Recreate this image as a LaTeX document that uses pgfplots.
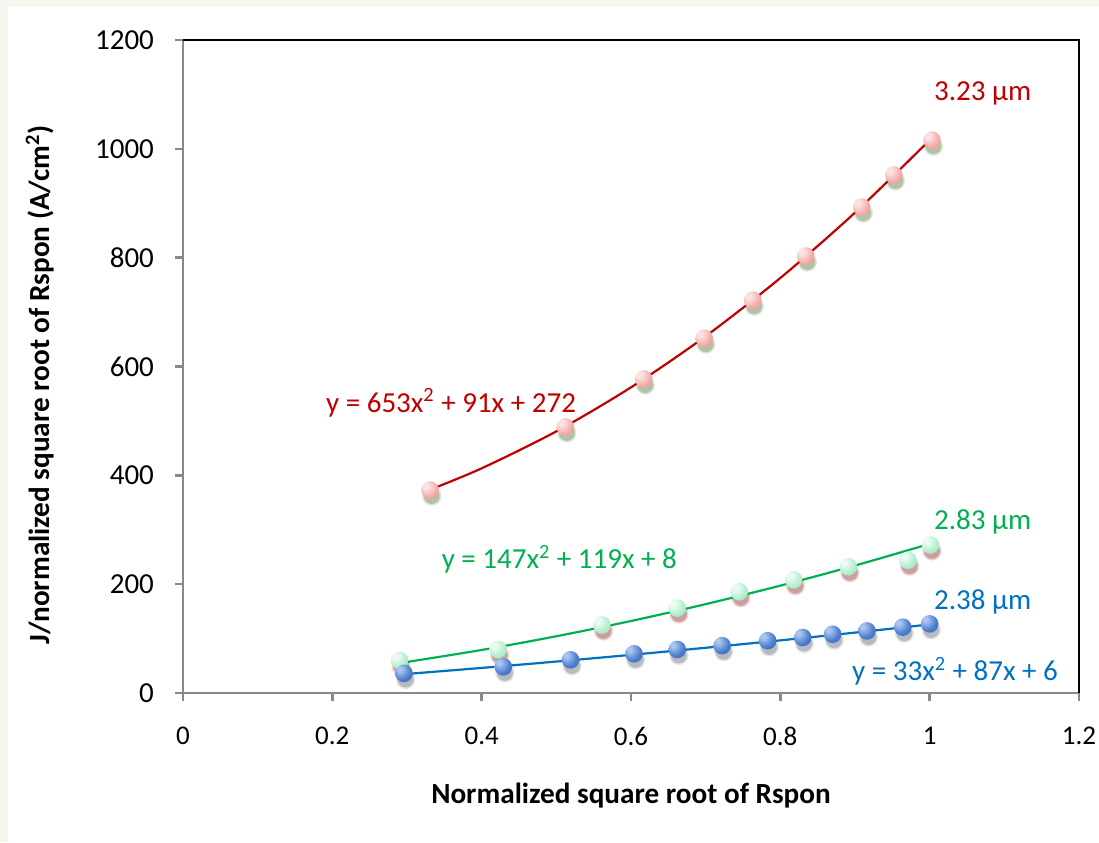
\documentclass[border=0pt]{standalone}
\usepackage{fontspec}
\setmainfont{Carlito}
\usepackage{pgfplots}
\pgfplotsset{compat=1.18}
\definecolor{axgray}{HTML}{898989}
\definecolor{cred}{HTML}{C00000}
\definecolor{cgreen}{HTML}{00B050}
\definecolor{cblue}{HTML}{0070C0}
\definecolor{beige}{HTML}{F6F5EE}
\definecolor{shgreen}{HTML}{4E6F2C}
\definecolor{shred}{HTML}{8A2020}
\definecolor{shgray}{HTML}{3A4454}
\definecolor{bhi}{HTML}{A9C5F0}
\definecolor{bmid}{HTML}{4C7ECE}
\definecolor{bedge}{HTML}{2D58A0}
\definecolor{rhi}{HTML}{FBE2E2}
\definecolor{rmid}{HTML}{F3A8A8}
\definecolor{redge}{HTML}{E48888}
\definecolor{ghi}{HTML}{EAFBF2}
\definecolor{gmid}{HTML}{AEEDCB}
\definecolor{gedge}{HTML}{80D8A8}

\pgfdeclareradialshading{redball}{\pgfpoint{-14bp}{14bp}}{%
  color(0bp)=(rhi); color(8bp)=(rhi); color(28bp)=(rmid); color(50bp)=(redge); color(70bp)=(redge)}
\pgfdeclareradialshading{greenball}{\pgfpoint{-14bp}{14bp}}{%
  color(0bp)=(ghi); color(8bp)=(ghi); color(28bp)=(gmid); color(50bp)=(gedge); color(70bp)=(gedge)}
\pgfdeclareradialshading{blueball}{\pgfpoint{-14bp}{14bp}}{%
  color(0bp)=(bhi); color(6bp)=(bhi); color(26bp)=(bmid); color(50bp)=(bedge); color(70bp)=(bedge)}
\pgfdeclareplotmark{redball}{\pgfpathcircle{\pgfpointorigin}{\pgfplotmarksize}\pgfshadepath{redball}{0}\pgfusepath{discard}}
\pgfdeclareplotmark{greenball}{\pgfpathcircle{\pgfpointorigin}{\pgfplotmarksize}\pgfshadepath{greenball}{0}\pgfusepath{discard}}
\pgfdeclareplotmark{blueball}{\pgfpathcircle{\pgfpointorigin}{\pgfplotmarksize}\pgfshadepath{blueball}{0}\pgfusepath{discard}}
\pgfdeclareplotmark{softdot}{\pgfpathcircle{\pgfpointorigin}{\pgfplotmarksize}\pgfusepath{fill}}

\pgfplotstableread{
x y
0.331 373
0.512 489
0.617 577
0.698 652
0.763 722
0.834 803
0.909 893
0.952 952
1.003 1016
}\redpts
\pgfplotstableread{
x y
0.290 60
0.422 80
0.561 125
0.662 156
0.745 186
0.818 208
0.891 232
0.971 244
1.001 272
}\greenpts
\pgfplotstableread{
x y
0.296 36
0.429 48
0.519 61
0.604 72
0.662 80
0.722 87
0.783 96
0.830 102
0.870 108
0.916 114
0.964 121
1.000 127
}\bluepts
\pgfplotstableread{
x y
0.331 373.7
0.4 412.9
0.5 480.8
0.6 561.7
0.7 655.7
0.8 762.7
0.9 882.8
1.0 1016
}\redfit
\pgfplotstableread{
x y
0.29 54.9
0.4 79.1
0.5 104.3
0.6 132.3
0.7 163.3
0.8 197.3
0.9 234.2
1.0 274
}\greenfit
\pgfplotstableread{
x y
0.296 34.6
0.4 46.1
0.5 57.8
0.6 70.1
0.7 83.1
0.8 96.7
0.9 111.0
1.0 126
}\bluefit

\begin{document}
\begin{tikzpicture}
\fill[white] (-91.5pt,-74.5pt) rectangle (458pt,346.5pt);
\fill[beige] (-91.5pt,-74.5pt) rectangle (-87.5pt,346.5pt);
\fill[beige] (-91.5pt,343pt) rectangle (458pt,346.5pt);
\path[use as bounding box] (-91.5pt,-74.5pt) rectangle (458pt,346.5pt);
\begin{axis}[
  at={(0,0)}, anchor=south west,
  scale only axis, width=448pt, height=326.5pt,
  xmin=0, xmax=1.2, ymin=0, ymax=1200,
  xtick={0,0.2,0.4,0.6,0.8,1,1.2},
  xticklabels={0,0.2,0.4,0.6,0.8,1,1.2},
  ytick={0,200,400,600,800,1000,1200},
  yticklabels={0,200,400,600,800,1000,1200},
  axis lines*=left,
  axis line style={-, draw=axgray, line width=1.2pt},
  tick style={draw=axgray, line width=1.2pt},
  major tick length=4pt,
  tick align=outside,
  /pgf/number format/assume math mode=true,
  ticklabel style={text=black},
  xticklabel style={yshift=-9.5pt, font=\fontsize{13.5}{15}\selectfont},
  yticklabel style={xshift=-7pt, font=\fontsize{14.5}{16}\selectfont},
  clip=false,
  xlabel={Normalized square root of Rspon},
  ylabel={J/normalized square root of Rspon (A/cm\textsuperscript{2})},
  every axis x label/.style={at={(rel axis cs:0.5,0)}, anchor=center, yshift=-51.5pt, font=\fontsize{14.6}{16}\selectfont\bfseries},
  every axis y label/.style={at={(rel axis cs:0,0.472)}, anchor=center, rotate=90, yshift=71.5pt, font=\fontsize{14.6}{16}\selectfont\bfseries},
]
% frame top and right
\draw[black, line width=0.9pt] (rel axis cs:0,1) -- (rel axis cs:1,1) -- (rel axis cs:1,0);
% soft shadows
\addplot[only marks, mark=softdot, mark size=4.8pt, mark options={fill=shgreen, fill opacity=0.18, yshift=-3pt, xshift=0.8pt}] table {\redpts};
\addplot[only marks, mark=softdot, mark size=4.0pt, mark options={fill=shgreen, fill opacity=0.3, yshift=-3pt, xshift=0.8pt}] table {\redpts};
\addplot[only marks, mark=softdot, mark size=4.8pt, mark options={fill=shred, fill opacity=0.18, yshift=-3pt, xshift=0.8pt}] table {\greenpts};
\addplot[only marks, mark=softdot, mark size=4.0pt, mark options={fill=shred, fill opacity=0.3, yshift=-3pt, xshift=0.8pt}] table {\greenpts};
\addplot[only marks, mark=softdot, mark size=4.8pt, mark options={fill=shgray, fill opacity=0.15, yshift=-3pt, xshift=0.8pt}] table {\bluepts};
\addplot[only marks, mark=softdot, mark size=4.0pt, mark options={fill=shgray, fill opacity=0.25, yshift=-3pt, xshift=0.8pt}] table {\bluepts};
% balls
\addplot[only marks, mark=redball, mark size=4.4pt] table {\redpts};
\addplot[only marks, mark=greenball, mark size=4.4pt] table {\greenpts};
\addplot[only marks, mark=blueball, mark size=4.4pt] table {\bluepts};
% fits
\addplot[cred, line width=1.1pt, smooth, no marks] table {\redfit};
\addplot[cgreen, line width=1.1pt, smooth, no marks] table {\greenfit};
\addplot[cblue, line width=1.1pt, smooth, no marks] table {\bluefit};
% annotations
\node[text=cred, font=\fontsize{14.5}{16}\selectfont] at (axis cs:1.071,1102) {3.23 µm};
\node[text=cred, font=\fontsize{14.5}{16}\selectfont] at (axis cs:0.359,533) {y = 653x\textsuperscript{2} + 91x + 272};
\node[text=cgreen, font=\fontsize{14.5}{16}\selectfont] at (axis cs:1.071,314) {2.83 µm};
\node[text=cgreen, font=\fontsize{14.5}{16}\selectfont] at (axis cs:0.504,246) {y = 147x\textsuperscript{2} + 119x + 8};
\node[text=cblue, font=\fontsize{14.5}{16}\selectfont] at (axis cs:1.071,167) {2.38 µm};
\node[text=cblue, font=\fontsize{14.5}{16}\selectfont] at (axis cs:1.034,40) {y = 33x\textsuperscript{2} + 87x + 6};
\end{axis}
\end{tikzpicture}
\end{document}
